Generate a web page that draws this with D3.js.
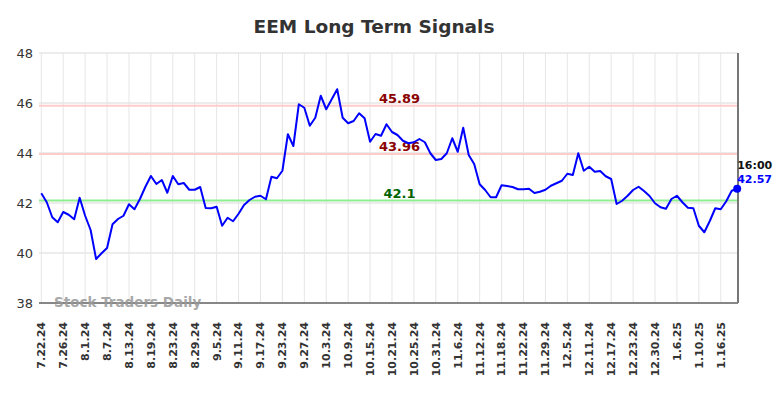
<!DOCTYPE html>
<meta charset="utf-8">
<title>EEM Long Term Signals</title>
<style>
    body { margin: 0; background: #fff; }
    svg { display: block; font-family: "DejaVu Sans", sans-serif; }
    .grid line { stroke: #e6e6e6; stroke-width: 1; }
    .grid line.h { stroke: #ececec; stroke-width: 2; }
    .ytick text { font-size: 13px; fill: #333; }
    .xtick text { font-size: 11px; font-weight: bold; fill: #333; }
    .price { fill: none; stroke: #0000ff; stroke-width: 2; stroke-linejoin: round; }
</style>
<body>
<svg width="784" height="398"></svg>
<script src="https://cdn.jsdelivr.net/npm/d3@7"></script>
<script>
    // closing prices, one per trading day (7.22.24 .. 1.22.25)
    var prices = [
        42.39, 42.03, 41.43, 41.23, 41.64, 41.53, 41.35, 42.21, 41.49, 40.92,
        39.76, 39.99, 40.20, 41.15, 41.36, 41.49, 41.95, 41.75, 42.16, 42.65,
        43.08, 42.76, 42.92, 42.41, 43.08, 42.75, 42.80, 42.53, 42.53, 42.64,
        41.80, 41.79, 41.85, 41.09, 41.41, 41.27, 41.57, 41.92, 42.12, 42.25,
        42.29, 42.15, 43.05, 42.99, 43.29, 44.75, 44.28, 45.95, 45.81, 45.09,
        45.41, 46.29, 45.75, 46.15, 46.55, 45.41, 45.19, 45.28, 45.59, 45.39,
        44.45, 44.76, 44.69, 45.15, 44.84, 44.72, 44.49, 44.39, 44.43, 44.56,
        44.43, 43.99, 43.72, 43.76, 43.99, 44.59, 44.05, 45.01, 43.92, 43.56,
        42.75, 42.52, 42.23, 42.23, 42.71, 42.68, 42.64, 42.55, 42.55, 42.57,
        42.40, 42.45, 42.53, 42.69, 42.79, 42.89, 43.17, 43.12, 43.99, 43.29,
        43.45, 43.25, 43.28, 43.07, 42.96, 41.96, 42.09, 42.29, 42.52, 42.65,
        42.48, 42.28, 41.99, 41.83, 41.77, 42.16, 42.29, 42.03, 41.81, 41.79,
        41.09, 40.83, 41.28, 41.79, 41.75, 42.07, 42.49, 42.57
    ];
    // a tick every 4 trading days
    var tickLabels = ["7.22.24", "7.26.24", "8.1.24", "8.7.24", "8.13.24", "8.19.24",
        "8.23.24", "8.29.24", "9.5.24", "9.11.24", "9.17.24", "9.23.24", "9.27.24",
        "10.3.24", "10.9.24", "10.15.24", "10.21.24", "10.25.24", "10.31.24",
        "11.6.24", "11.12.24", "11.18.24", "11.22.24", "11.29.24", "12.5.24",
        "12.11.24", "12.17.24", "12.23.24", "12.30.24", "1.6.25", "1.10.25", "1.16.25"];
    var yTicks = [38, 40, 42, 44, 46, 48];
    var levels = [45.89, 43.96, 42.1];
    var levelColors = ["#ffcccc", "#ffcccc", "#90ee90"];
    var levelText = ["#8b0000", "#8b0000", "#006400"];
    var lastTime = "16:00";

    var pLeft = 39, pRight = 738, pTop = 53, pBottom = 303;
    var svg = d3.select("svg");

    var x = d3.scaleLinear().domain([0, prices.length - 1]).range([41.3, 737.2]);
    var y = d3.scaleLinear().domain([38, 48]).range([pBottom, pTop]);

    svg.append("text")
        .attr("x", 374).attr("y", 33)
        .attr("text-anchor", "middle")
        .style("font-size", "18.5px").style("font-weight", "bold").style("fill", "#333")
        .text("EEM Long Term Signals");

    // grid
    var grid = svg.append("g").attr("class", "grid");
    grid.selectAll(".h").data(yTicks).enter().append("line")
        .attr("class", "h")
        .attr("x1", pLeft).attr("x2", pRight)
        .attr("y1", d => y(d)).attr("y2", d => y(d));
    grid.selectAll(".v").data(tickLabels).enter().append("line")
        .attr("class", "v")
        .attr("x1", (d, i) => x(i * 4)).attr("x2", (d, i) => x(i * 4))
        .attr("y1", pTop).attr("y2", pBottom);

    // y tick labels
    svg.append("g").attr("class", "ytick").selectAll("text")
        .data(yTicks).enter().append("text")
        .attr("x", 33).attr("y", d => y(d))
        .attr("dy", "0.35em")
        .attr("text-anchor", "end")
        .text(d => d);

    // x tick labels
    svg.append("g").attr("class", "xtick").selectAll("text")
        .data(tickLabels).enter().append("text")
        .attr("transform", (d, i) => "translate(" + x(i * 4) + ",322) rotate(-90)")
        .attr("dy", "0.35em")
        .attr("text-anchor", "end")
        .text(d => d);

    // signal levels
    levels.forEach(function(v, k) {
        svg.append("line")
            .attr("x1", pLeft).attr("x2", pRight)
            .attr("y1", y(v)).attr("y2", y(v))
            .style("stroke", levelColors[k]).style("stroke-width", 2);
        svg.append("text")
            .attr("x", 399.5).attr("y", y(v) - 3)
            .attr("text-anchor", "middle")
            .style("font-size", "13px").style("font-weight", "bold")
            .style("fill", levelText[k])
            .text(v);
    });

    // axes frame
    svg.append("line").attr("x1", pLeft).attr("x2", pRight)
        .attr("y1", pBottom).attr("y2", pBottom)
        .style("stroke", "#666").style("stroke-width", 1.5);
    svg.append("line").attr("x1", pRight).attr("x2", pRight)
        .attr("y1", pTop).attr("y2", pBottom)
        .style("stroke", "#777").style("stroke-width", 2);

    svg.append("text")
        .attr("x", 54).attr("y", 307)
        .style("font-size", "13.5px").style("font-weight", "bold")
        .style("fill", "#999").style("opacity", 0.85)
        .text("Stock Traders Daily");

    var line = d3.line().x((d, i) => x(i)).y(d => y(d));
    svg.append("path").datum(prices).attr("class", "price").attr("d", line);

    var n = prices.length - 1;
    svg.append("circle")
        .attr("cx", x(n)).attr("cy", y(prices[n])).attr("r", 4)
        .style("fill", "#0000ff");
    svg.append("text")
        .attr("x", x(n)).attr("y", y(prices[n]) - 20)
        .style("font-size", "11px").style("font-weight", "bold").style("fill", "#111")
        .text(lastTime);
    svg.append("text")
        .attr("x", x(n)).attr("y", y(prices[n]) - 6)
        .style("font-size", "11px").style("font-weight", "bold").style("fill", "#0000ff")
        .text(prices[n].toFixed(2));
</script>
</body>
